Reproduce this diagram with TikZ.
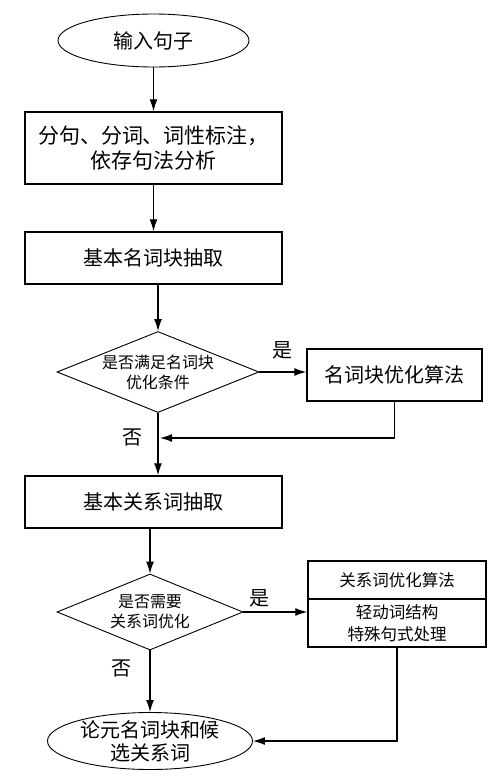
\documentclass[tikz,border=0pt]{standalone}
\usepackage{fontspec}
\setmainfont{Noto Sans CJK SC}
\usetikzlibrary{arrows.meta,shapes.geometric}
\begin{document}
\begin{tikzpicture}[x=1pt,y=-1pt,>={Latex[length=12pt,width=8pt]},line width=1.2pt,
  term/.style={draw, ellipse, line width=0.9pt, inner sep=0pt, align=center, font=\fontsize{20}{23}\selectfont},
  proc/.style={draw, rectangle, line width=1.5pt, inner sep=0pt, minimum width=257pt, minimum height=52pt, align=center, font=\fontsize{20}{25}\selectfont},
  test/.style={draw, diamond, line width=0.9pt, inner sep=0pt, align=center, font=\fontsize{16}{20}\selectfont},
  opt/.style={draw, rectangle, line width=1.5pt, inner sep=0pt, minimum width=178pt, align=center, font=\fontsize{16.5}{22}\selectfont},
  lab/.style={font=\fontsize{20}{24}\selectfont}]
\useasboundingbox (0,0) rectangle (500,780);
\node (a) [term, minimum width=191pt, minimum height=53pt] at (153.5,40.5) {输入句子};
\node (b) [proc, minimum height=72pt, font=\fontsize{21}{25}\selectfont] at (153.5,148) {分句、分词、词性标注，\\依存句法分析};
\node (c) [proc] at (153.5,258) {基本名词块抽取};
\node (d) [test, aspect=2.49, minimum width=202pt, minimum height=81pt] at (158,372) {是否满足名词块\\优化条件};
\node (e) [proc, minimum width=175pt] at (394.5,375) {名词块优化算法};
\node (f) [proc] at (153.5,502) {基本关系词抽取};
\node (g) [test, aspect=2.45, minimum width=186pt, minimum height=76pt] at (150,612) {是否需要\\关系词优化};
\node (h) [opt, minimum height=38pt] at (397,580) {关系词优化算法};
\node (i) [opt, minimum height=48pt] at (397,623) {轻动词结构\\特殊句式处理};
\node (j) [term, inner sep=-3pt, minimum width=205pt, minimum height=57pt] at (150,741) {论元名词块和候\\选关系词};
\coordinate (k) at (160,438);
\path[->]
(a) edge (b)
(b) edge (c)
(c.south -| d.north) edge (d.north)
(d.east) edge node [lab, above=9pt] {是} (d.east -| e.west)
(d.south) edge node [lab, left=12pt, pos=0.4] {否} (d.south |- f.north)
(f.south -| g.north) edge (g.north)
(g.east) edge node [lab, above=1pt, pos=0.25] {是} (g.east -| i.west)
(g.south) edge node [lab, left=15pt, pos=0.29] {否} (j.north);
\draw[->] (e.south) |- (k);
\draw[->] (i.south) |- (j.east);
\end{tikzpicture}
\end{document}
